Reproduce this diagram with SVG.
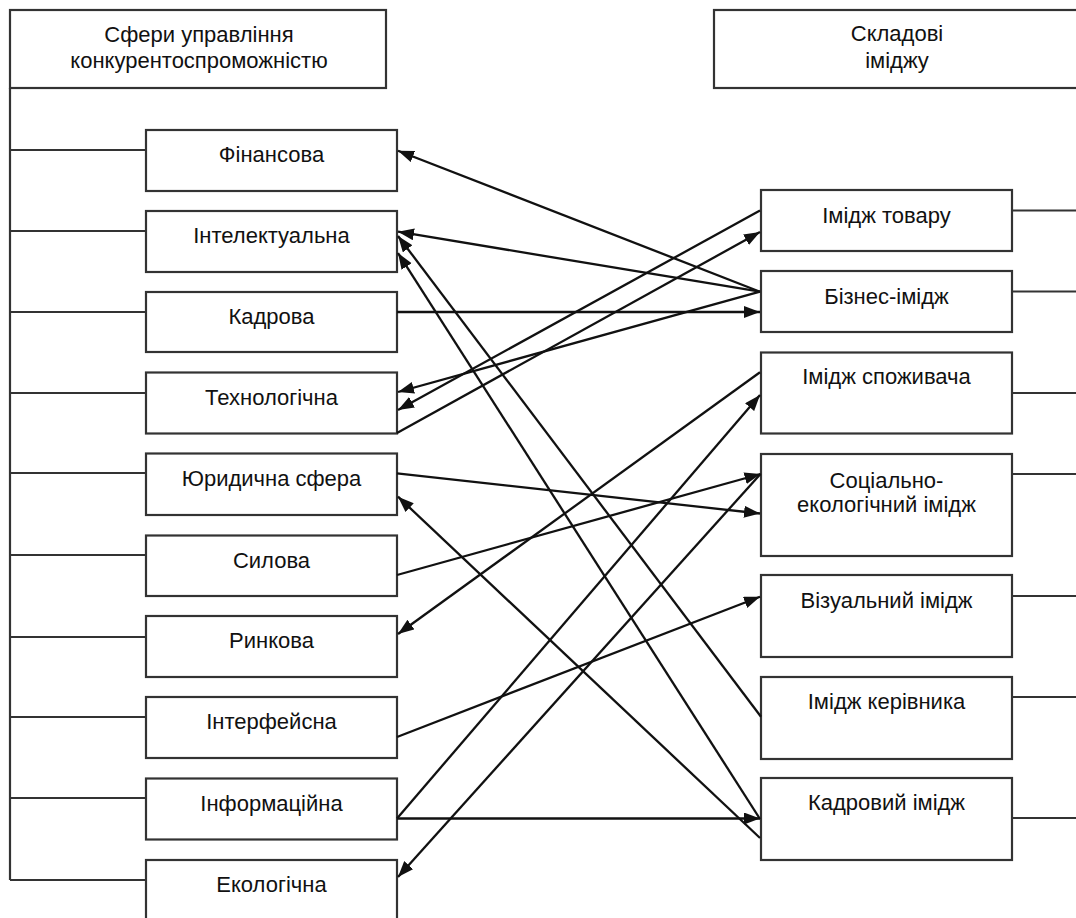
<svg xmlns="http://www.w3.org/2000/svg" width="1076" height="918" viewBox="0 0 1076 918">
<defs>
<marker id="arr" markerUnits="userSpaceOnUse" markerWidth="17" markerHeight="13" refX="16" refY="6" orient="auto">
<path d="M0,0 L16,6 L0,12 z" fill="#111"/>
</marker>
<style>
.box{fill:#fff;stroke:#333;stroke-width:2.2}
.stub{stroke:#333;stroke-width:2.2;fill:none}
.con{stroke:#111;stroke-width:2.3;fill:none;marker-end:url(#arr)}
text{font-family:"Liberation Sans",Arial,sans-serif;font-size:22px;fill:#111;text-anchor:middle}
</style>
</defs>
<rect width="1076" height="918" fill="#fff"/>

<g id="header-left">
<rect class="box" x="10" y="10" width="376" height="78"/>
<text x="199" y="41.5">Сфери управління</text>
<text x="199" y="68">конкурентоспроможністю</text>
</g>
<g id="header-right">
<rect class="box" x="714" y="10" width="380" height="78"/>
<text x="897" y="41">Складові</text>
<text x="897" y="68">іміджу</text>
</g>

<g id="trunks">
<path class="stub" d="M10,88 V880 M10,150 H146 M10,231 H146 M10,312 H146 M10,393 H146 M10,473 H146 M10,555 H146 M10,637 H146 M10,717 H146 M10,798 H146 M10,880 H146"/>
<path class="stub" d="M1012,210.5 H1076 M1012,291.5 H1076 M1012,393 H1076 M1012,474 H1076 M1012,596 H1076 M1012,697 H1076 M1012,818 H1076"/>
</g>

<g id="left-finansova"><rect class="box" x="146" y="130" width="251" height="61"/><text x="271.5" y="162">Фінансова</text></g>
<g id="left-intelektualna"><rect class="box" x="146" y="211" width="251" height="61"/><text x="271.5" y="243">Інтелектуальна</text></g>
<g id="left-kadrova"><rect class="box" x="146" y="292" width="251" height="60"/><text x="271.5" y="324">Кадрова</text></g>
<g id="left-tekhnolohichna"><rect class="box" x="146" y="372.5" width="251" height="61"/><text x="271.5" y="404.5">Технологічна</text></g>
<g id="left-yurydychna"><rect class="box" x="146" y="453.5" width="251" height="61.5"/><text x="271.5" y="485.5">Юридична сфера</text></g>
<g id="left-sylova"><rect class="box" x="146" y="535.5" width="251" height="60.5"/><text x="271.5" y="567.5">Силова</text></g>
<g id="left-rynkova"><rect class="box" x="146" y="616" width="251" height="61"/><text x="271.5" y="648">Ринкова</text></g>
<g id="left-interfeisna"><rect class="box" x="146" y="697" width="251" height="61"/><text x="271.5" y="729">Інтерфейсна</text></g>
<g id="left-informatsiina"><rect class="box" x="146" y="778.5" width="251" height="61"/><text x="271.5" y="810.5">Інформаційна</text></g>
<g id="left-ekolohichna"><rect class="box" x="146" y="860" width="251" height="70"/><text x="271.5" y="892">Екологічна</text></g>

<g id="right-tovar"><rect class="box" x="761" y="190" width="251" height="61"/><text x="886.5" y="223">Імідж товару</text></g>
<g id="right-biznes"><rect class="box" x="761" y="271" width="251" height="61"/><text x="886.5" y="304">Бізнес-імідж</text></g>
<g id="right-spozhyvach"><rect class="box" x="761" y="352.5" width="251" height="81"/><text x="886.5" y="384">Імідж споживача</text></g>
<g id="right-sotsialno"><rect class="box" x="761" y="454" width="251" height="102"/><text x="886.5" y="488">Соціально-</text><text x="886.5" y="512">екологічний імідж</text></g>
<g id="right-vizualnyi"><rect class="box" x="761" y="575" width="251" height="82"/><text x="886.5" y="607.5">Візуальний імідж</text></g>
<g id="right-kerivnyk"><rect class="box" x="761" y="677" width="251" height="82"/><text x="886.5" y="708.5">Імідж керівника</text></g>
<g id="right-kadrovyi"><rect class="box" x="761" y="778" width="251" height="82"/><text x="886.5" y="810">Кадровий імідж</text></g>

<g id="connectors">
<line class="con" x1="760" y1="291.7" x2="398" y2="150.7"/>
<line class="con" x1="760" y1="291.7" x2="398" y2="231.7"/>
<line class="con" x1="760" y1="291.7" x2="398" y2="392"/>
<line class="con" x1="760" y1="210.5" x2="398" y2="410"/>
<line class="con" x1="397" y1="433" x2="760" y2="232"/>
<line class="con" x1="397" y1="312" x2="760" y2="312"/>
<line class="con" x1="761" y1="716.7" x2="398" y2="236"/>
<line class="con" x1="760" y1="819" x2="398" y2="253"/>
<line class="con" x1="397" y1="473.3" x2="760" y2="513.5"/>
<line class="con" x1="760" y1="838" x2="398" y2="496.7"/>
<line class="con" x1="397" y1="575" x2="760.5" y2="474"/>
<line class="con" x1="760" y1="372.3" x2="398" y2="634"/>
<line class="con" x1="397" y1="737" x2="760" y2="596.7"/>
<line class="con" x1="397" y1="818.5" x2="760" y2="395"/>
<line class="con" x1="397" y1="818.5" x2="760" y2="818.5"/>
<line class="con" x1="760.5" y1="474" x2="398" y2="877"/>
</g>
</svg>
